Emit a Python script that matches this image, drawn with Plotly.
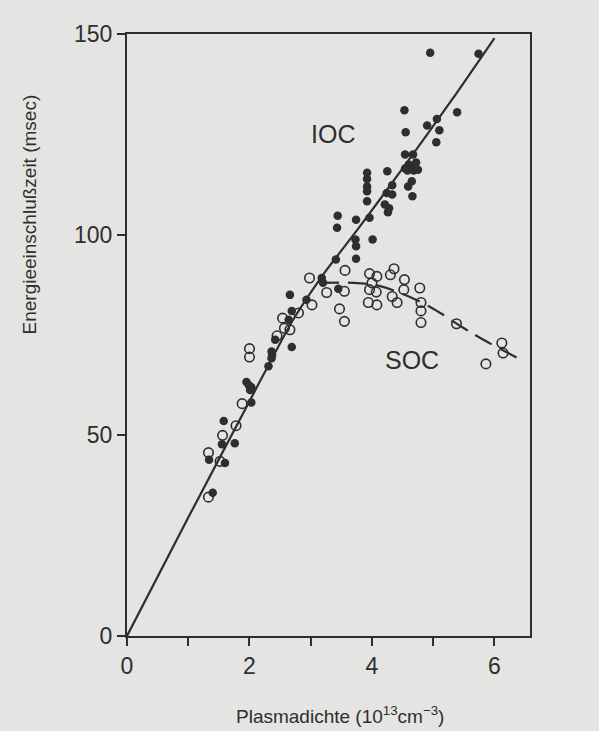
import plotly.graph_objects as go

# IOC (filled circles)
ioc_x = [4.95, 5.74, 4.53, 5.39, 5.06, 4.90, 5.10, 4.55, 5.05, 4.54, 4.67,
         4.54, 4.60, 4.66, 4.72, 4.75, 4.58, 4.68,
         4.65, 4.59, 4.66,
         3.92, 3.92, 3.92, 3.92, 3.92,
         4.25, 4.33, 4.24, 4.33, 4.21, 4.28, 4.26,
         3.44, 3.43, 3.74, 3.96,
         3.73, 3.74, 4.01, 3.74, 3.41,
         3.18, 3.20, 3.45, 2.66, 2.69, 2.93, 2.64, 2.69,
         2.42, 2.36, 2.37, 2.36, 2.31,
         1.95, 1.99, 2.03, 2.01, 2.03,
         1.58, 1.76, 1.55, 1.34, 1.60, 1.40]
ioc_y = [145.3, 145.1, 131.0, 130.5, 128.8, 127.2, 126.0, 125.5, 123.0, 120.0, 120.0,
         116.5, 117.5, 117.0, 118.0, 116.2, 116.0, 116.0,
         113.3, 112.0, 109.6,
         115.4, 113.9, 112.0, 110.8, 108.3,
         115.8, 112.3, 110.4, 110.0, 107.5, 106.6, 105.6,
         104.7, 101.7, 103.7, 104.2,
         98.8, 97.1, 98.8, 94.0, 93.8,
         89.2, 88.0, 86.5, 85.0, 81.0, 83.8, 78.8, 72.0,
         73.8, 70.9, 70.0, 69.2, 67.2,
         63.3, 62.5, 62.0, 61.3, 58.2,
         53.6, 48.0, 47.8, 43.9, 43.1, 35.7]

# SOC (open circles)
soc_x = [2.98, 3.56, 3.26, 3.55, 3.47, 3.55,
         3.96, 4.08, 4.00, 3.96, 4.07, 3.94, 4.08,
         4.30, 4.36, 4.53, 4.52, 4.33, 4.41,
         4.78, 4.80, 4.80, 4.80,
         5.38, 6.12, 6.14, 5.86,
         2.80, 3.02, 2.54, 2.57, 2.66, 2.45,
         2.00, 2.00, 1.88, 1.78, 1.56, 1.33, 1.52, 1.33]
soc_y = [89.2, 91.1, 85.6, 85.9, 81.5, 78.4,
         90.3, 89.6, 88.0, 86.3, 85.7, 83.1, 82.5,
         90.0, 91.5, 88.8, 86.3, 84.6, 83.1,
         86.7, 83.1, 81.0, 78.1,
         77.8, 73.0, 70.5, 67.8,
         80.5, 82.5, 79.2, 76.7, 76.3, 74.8,
         71.6, 69.5, 57.9, 52.4, 50.0, 45.7, 43.5, 34.6]

# Drawn curves
ioc_line_x = [0.0, 1.0, 2.0, 2.7, 3.2, 3.8, 4.5, 5.3, 6.0]
ioc_line_y = [0.0, 29.5, 58.5, 78.5, 90.0, 102.0, 116.5, 133.5, 149.0]
soc_line_x = [3.15, 3.7, 4.1, 4.46, 4.95, 5.49, 5.82, 6.37]
soc_line_y = [88.0, 88.0, 87.3, 85.5, 82.0, 76.8, 73.8, 69.3]

ink = "#2e2e2e"
bg = "#e4e4e2"
font = "Liberation Sans, Arial, sans-serif"

fig = go.Figure()
fig.add_trace(go.Scatter(x=ioc_line_x, y=ioc_line_y, mode="lines",
                         line=dict(color=ink, width=2.2, shape="spline", smoothing=0.6),
                         showlegend=False))
fig.add_trace(go.Scatter(x=soc_line_x, y=soc_line_y, mode="lines",
                         line=dict(color=ink, width=2.2, dash="19px,9px", shape="spline"),
                         showlegend=False))
fig.add_trace(go.Scatter(x=ioc_x, y=ioc_y, mode="markers",
                         marker=dict(symbol="circle", size=8.5, color=ink,
                                     line=dict(width=0)), showlegend=False))
fig.add_trace(go.Scatter(x=soc_x, y=soc_y, mode="markers",
                         marker=dict(symbol="circle-open", size=9.5, color=ink,
                                     line=dict(width=1.6)), showlegend=False))

fig.add_annotation(x=3.37, y=125, text="IOC", showarrow=False,
                   font=dict(family=font, size=25, color=ink))
fig.add_annotation(x=4.66, y=68.8, text="SOC", showarrow=False,
                   font=dict(family=font, size=25, color=ink))
fig.add_annotation(xref="paper", yref="paper", x=-0.241, y=0.7, xanchor="center",
                   yanchor="middle",
                   text="Energieeinschlußzeit (msec)", textangle=-90, showarrow=False,
                   font=dict(family=font, size=19, color=ink))
fig.add_annotation(xref="paper", yref="paper", x=0.529, y=-0.131, xanchor="center",
                   yanchor="middle",
                   text="Plasmadichte (10<sup>13</sup>cm<sup>−3</sup>)", showarrow=False,
                   font=dict(family=font, size=19, color=ink))

fig.update_layout(
    width=599, height=731,
    margin=dict(l=127, r=69, t=34, b=95),
    paper_bgcolor=bg, plot_bgcolor=bg,
    font=dict(family=font, color=ink),
    xaxis=dict(range=[0, 6.58], tickmode="linear", tick0=0, dtick=2,
               ticks="outside", ticklen=8, tickwidth=2, tickcolor=ink,
               minor=dict(dtick=1, tick0=0, ticks="outside", ticklen=8,
                          tickwidth=2, tickcolor=ink, showgrid=False),
               showline=True, linecolor=ink, linewidth=2, mirror=True,
               showgrid=False, zeroline=False,
               tickfont=dict(family=font, size=23, color=ink)),
    yaxis=dict(range=[0, 150], tickmode="linear", tick0=0, dtick=50,
               ticks="outside", ticklen=8, tickwidth=2, tickcolor=ink,
               showline=True, linecolor=ink, linewidth=2, mirror=True,
               showgrid=False, zeroline=False,
               tickfont=dict(family=font, size=23, color=ink)),
)

fig.write_html("out.html")
